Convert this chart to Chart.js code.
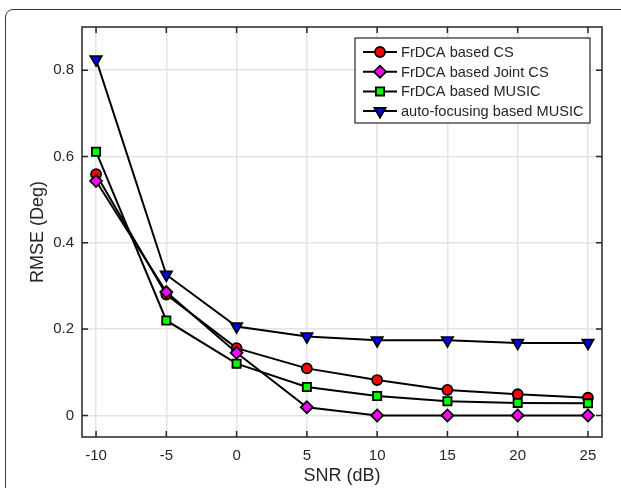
<!DOCTYPE html>
<html>
<head>
<meta charset="utf-8">
<title>RMSE vs SNR</title>
<script src="https://cdn.jsdelivr.net/npm/chart.js@4.4.0/dist/chart.umd.min.js"></script>
<style>
    html, body { margin: 0; padding: 0; background: #fff; overflow: hidden; }
    #wrap { position: relative; width: 621px; height: 488px; }
    #frame { position: absolute; left: 5px; top: 9px; width: 700px; height: 600px; border: 1px solid #3a3a3a; border-radius: 8px; box-sizing: border-box; }
    canvas { position: absolute; left: 0; top: 0; }
</style>
</head>
<body>
<div id="wrap">
    <div id="frame"></div>
    <canvas id="rmseChart" width="621" height="488"></canvas>
</div>
<script>
// Veriler
const snr = [-10, -5, 0, 5, 10, 15, 20, 25];
const csRmse = [0.559, 0.280, 0.156, 0.109, 0.082, 0.059, 0.049, 0.041];
const jointCsRmse = [0.543, 0.286, 0.145, 0.019, 0, 0, 0, 0];
const musicRmse = [0.611, 0.220, 0.120, 0.066, 0.045, 0.033, 0.029, 0.028];
const autoFocusRmse = [0.825, 0.326, 0.206, 0.183, 0.174, 0.174, 0.168, 0.168];
const xTicks = [-10, -5, 0, 5, 10, 15, 20, 25];
const yTicks = [0, 0.2, 0.4, 0.6, 0.8];

const fontFamily = '"Liberation Sans", Arial, Helvetica, sans-serif';
const textColor = '#262626';
const gridColor = '#e4e4e4';

function toPoints(values) {
    return snr.map((s, i) => ({ x: s, y: values[i] }));
}

// Eksen kutusu ve içe dönük çentikler
const axesBox = {
    id: 'axesBox',
    beforeDatasetsDraw(chart) {
        const { ctx, chartArea: a, scales: { x, y } } = chart;
        const t = 6;
        ctx.save();
        ctx.strokeStyle = textColor;
        ctx.lineWidth = 1.5;
        ctx.strokeRect(a.left, a.top, a.right - a.left, a.bottom - a.top);
        ctx.beginPath();
        xTicks.forEach(v => {
            const px = x.getPixelForValue(v);
            ctx.moveTo(px, a.bottom); ctx.lineTo(px, a.bottom - t);
            ctx.moveTo(px, a.top); ctx.lineTo(px, a.top + t);
        });
        yTicks.forEach(v => {
            const py = y.getPixelForValue(v);
            ctx.moveTo(a.left, py); ctx.lineTo(a.left + t, py);
            ctx.moveTo(a.right, py); ctx.lineTo(a.right - t, py);
        });
        ctx.stroke();
        ctx.restore();
    }
};

// Lejant kutusu (çizgi + işaret)
const legendBox = {
    id: 'legendBox',
    afterDraw(chart) {
        const ctx = chart.ctx;
        const x0 = 355, y0 = 38, w = 235, h = 85;
        ctx.save();
        ctx.fillStyle = '#fff';
        ctx.fillRect(x0, y0, w, h);
        ctx.strokeStyle = textColor;
        ctx.lineWidth = 1.2;
        ctx.strokeRect(x0, y0, w, h);
        chart.data.datasets.forEach((ds, i) => {
            const ly = y0 + 14 + i * 19.7;
            ctx.strokeStyle = '#000';
            ctx.lineWidth = 2;
            ctx.beginPath();
            ctx.moveTo(x0 + 8, ly);
            ctx.lineTo(x0 + 42, ly);
            ctx.stroke();
            ctx.fillStyle = ds.pointBackgroundColor;
            ctx.lineWidth = ds.pointBorderWidth;
            Chart.helpers.drawPoint(ctx, {
                pointStyle: ds.pointStyle,
                rotation: ds.pointRotation || 0,
                radius: ds.pointRadius,
                borderWidth: ds.pointBorderWidth
            }, x0 + 25, ly);
            ctx.fillStyle = textColor;
            ctx.font = '14.6px ' + fontFamily;
            ctx.textBaseline = 'middle';
            ctx.textAlign = 'left';
            ctx.fillText(ds.label, x0 + 46, ly + 1);
        });
        ctx.restore();
    }
};

const ctx = document.getElementById('rmseChart').getContext('2d');
const rmseChart = new Chart(ctx, {
    type: 'line',
    data: {
        datasets: [{
            label: 'FrDCA based CS',
            data: toPoints(csRmse),
            borderColor: '#000',
            borderWidth: 2,
            pointStyle: 'circle',
            pointRadius: 5,
            pointBackgroundColor: '#ff0000',
            pointBorderColor: '#000',
            pointBorderWidth: 1.8,
            order: 4
        }, {
            label: 'FrDCA based Joint CS',
            data: toPoints(jointCsRmse),
            borderColor: '#000',
            borderWidth: 2,
            pointStyle: 'rectRot',
            pointRadius: 6,
            pointBackgroundColor: '#ff00ff',
            pointBorderColor: '#000',
            pointBorderWidth: 1.8,
            order: 3
        }, {
            label: 'FrDCA based MUSIC',
            data: toPoints(musicRmse),
            borderColor: '#000',
            borderWidth: 2,
            pointStyle: 'rect',
            pointRadius: 5.8,
            pointBackgroundColor: '#00ff00',
            pointBorderColor: '#000',
            pointBorderWidth: 1.8,
            order: 2
        }, {
            label: 'auto-focusing based MUSIC',
            data: toPoints(autoFocusRmse),
            borderColor: '#000',
            borderWidth: 2,
            pointStyle: 'triangle',
            pointRotation: 180,
            pointRadius: 6.5,
            pointBackgroundColor: '#0000ff',
            pointBorderColor: '#000',
            pointBorderWidth: 1.8,
            order: 1
        }]
    },
    options: {
        responsive: false,
        devicePixelRatio: 1,
        animation: false,
        layout: { padding: { left: 0, top: 27, right: 19, bottom: 0 } },
        elements: { line: { tension: 0 } },
        plugins: {
            legend: { display: false },
            tooltip: { enabled: false }
        },
        scales: {
            x: {
                type: 'linear',
                min: -11,
                max: 26,
                afterBuildTicks: scale => { scale.ticks = xTicks.map(v => ({ value: v })); },
                afterFit: scale => { scale.height = 51; },
                grid: { color: gridColor, lineWidth: 1.5, drawTicks: false },
                border: { display: false },
                ticks: {
                    color: textColor,
                    font: { size: 15, family: fontFamily },
                    padding: 10,
                    maxRotation: 0,
                    autoSkip: false
                },
                title: {
                    display: true,
                    text: 'SNR (dB)',
                    color: textColor,
                    font: { size: 18, family: fontFamily },
                    padding: { top: 0, bottom: 1 }
                }
            },
            y: {
                type: 'linear',
                min: -0.05,
                max: 0.9,
                afterBuildTicks: scale => { scale.ticks = yTicks.map(v => ({ value: v })); },
                afterFit: scale => { scale.width = 82; },
                grid: { color: gridColor, lineWidth: 1.5, drawTicks: false },
                border: { display: false },
                ticks: {
                    color: textColor,
                    font: { size: 15, family: fontFamily },
                    padding: 8,
                    callback: value => String(value)
                },
                title: {
                    display: true,
                    text: 'RMSE (Deg)',
                    color: textColor,
                    font: { size: 18, family: fontFamily },
                    padding: { top: 27, bottom: 0 }
                }
            }
        }
    },
    plugins: [axesBox, legendBox]
});
</script>
</body>
</html>
